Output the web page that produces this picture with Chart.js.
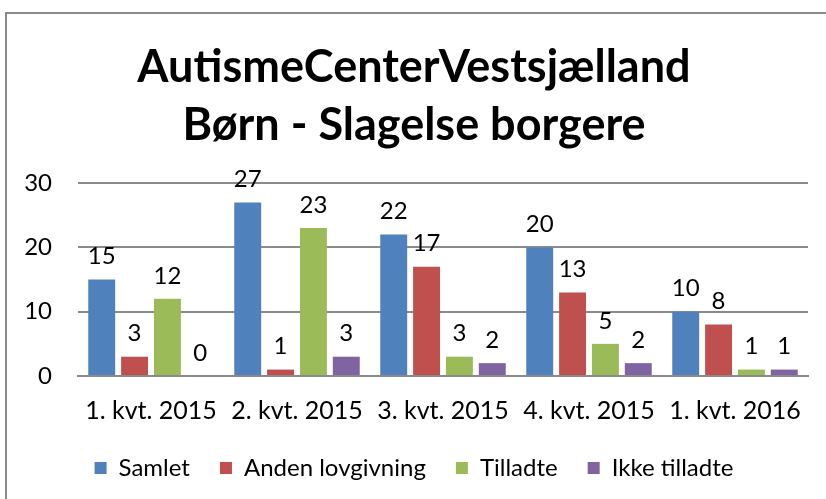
<!DOCTYPE html>
<html>
<head>
<meta charset="utf-8">
<script src="https://cdn.jsdelivr.net/npm/chart.js@4/dist/chart.umd.min.js"></script>
<style>
html,body{margin:0;padding:0;background:#fff;}
canvas{display:block;}
</style>
</head>
<body>
<canvas id="c" width="826" height="499"></canvas>
<script>
const categories = ["1. kvt. 2015", "2. kvt. 2015", "3. kvt. 2015", "4. kvt. 2015", "1. kvt. 2016"];
const samlet = [15, 27, 22, 20, 10];
const andenLovgivning = [3, 1, 17, 13, 8];
const tilladte = [12, 23, 3, 5, 1];
const ikkeTilladte = [0, 3, 2, 2, 1];
const seriesNames = ["Samlet", "Anden lovgivning", "Tilladte", "Ikke tilladte"];
const yTicks = [0, 10, 20, 30];
const titleLines = ["AutismeCenterVestsjælland", "Børn - Slagelse borgere"];

const FONT = "Lato, Carlito, Calibri, 'Open Sans', sans-serif";

const borderPlugin = {
  id: 'outerBorder',
  beforeDraw(chart) {
    const ctx = chart.ctx;
    ctx.save();
    ctx.fillStyle = '#fff';
    ctx.fillRect(0, 0, chart.width, chart.height);
    ctx.strokeStyle = '#8a8a8a';
    ctx.lineWidth = 2;
    ctx.strokeRect(6, 13, chart.width + 20, chart.height + 20);
    ctx.restore();
  }
};

const legendShift = {
  id: 'legendShift',
  afterLayout(chart) {
    if (chart.legend) {
      chart.legend.top -= 12;
      chart.legend.bottom -= 12;
    }
  }
};

const labelPlugin = {
  id: 'valueLabels',
  afterDatasetsDraw(chart) {
    const ctx = chart.ctx;
    ctx.save();
    ctx.font = "24px " + FONT;
    ctx.fillStyle = '#000';
    ctx.textAlign = 'center';
    ctx.textBaseline = 'bottom';
    chart.data.datasets.forEach((ds, i) => {
      const meta = chart.getDatasetMeta(i);
      meta.data.forEach((el, j) => {
        ctx.fillText(String(ds.data[j]), el.x, el.y - 11);
      });
    });
    ctx.restore();
  }
};

const colors = ['#4F81BD', '#C0504D', '#9BBB59', '#8064A2'];
const seriesData = [samlet, andenLovgivning, tilladte, ikkeTilladte];

new Chart(document.getElementById('c'), {
  type: 'bar',
  data: {
    labels: categories,
    datasets: seriesNames.map((n, i) => ({
      label: n,
      data: seriesData[i],
      backgroundColor: colors[i],
      borderWidth: 0,
      categoryPercentage: 0.9,
      barPercentage: 0.82
    }))
  },
  options: {
    responsive: false,
    animation: false,
    layout: { padding: { left: 20, right: 18, top: 38, bottom: -3 } },
    plugins: {
      title: {
        display: true,
        text: titleLines,
        color: '#000',
        font: { family: FONT, size: 45, weight: 'bold', lineHeight: 1.29 },
        padding: { top: 0, bottom: 29 }
      },
      legend: {
        position: 'bottom',
        labels: {
          color: '#000',
          boxWidth: 12,
          boxHeight: 12,
          padding: 30,
          font: { family: FONT, size: 24 }
        }
      },
      tooltip: { enabled: false }
    },
    scales: {
      x: {
        grid: { display: false },
        border: { display: true, color: '#8a8a8a', width: 2 },
        ticks: { color: '#000', font: { family: FONT, size: 25 }, padding: 12 }
      },
      y: {
        min: 0,
        max: 30,
        afterBuildTicks(scale) { scale.ticks = yTicks.map(v => ({ value: v })); },
        afterFit(scale) { scale.width = 58; },
        grid: { color: '#8a8a8a', lineWidth: 2, drawTicks: false },
        border: { display: false },
        ticks: { color: '#000', font: { family: FONT, size: 24 }, padding: 26 }
      }
    }
  },
  plugins: [borderPlugin, legendShift, labelPlugin]
});
</script>
</body>
</html>
